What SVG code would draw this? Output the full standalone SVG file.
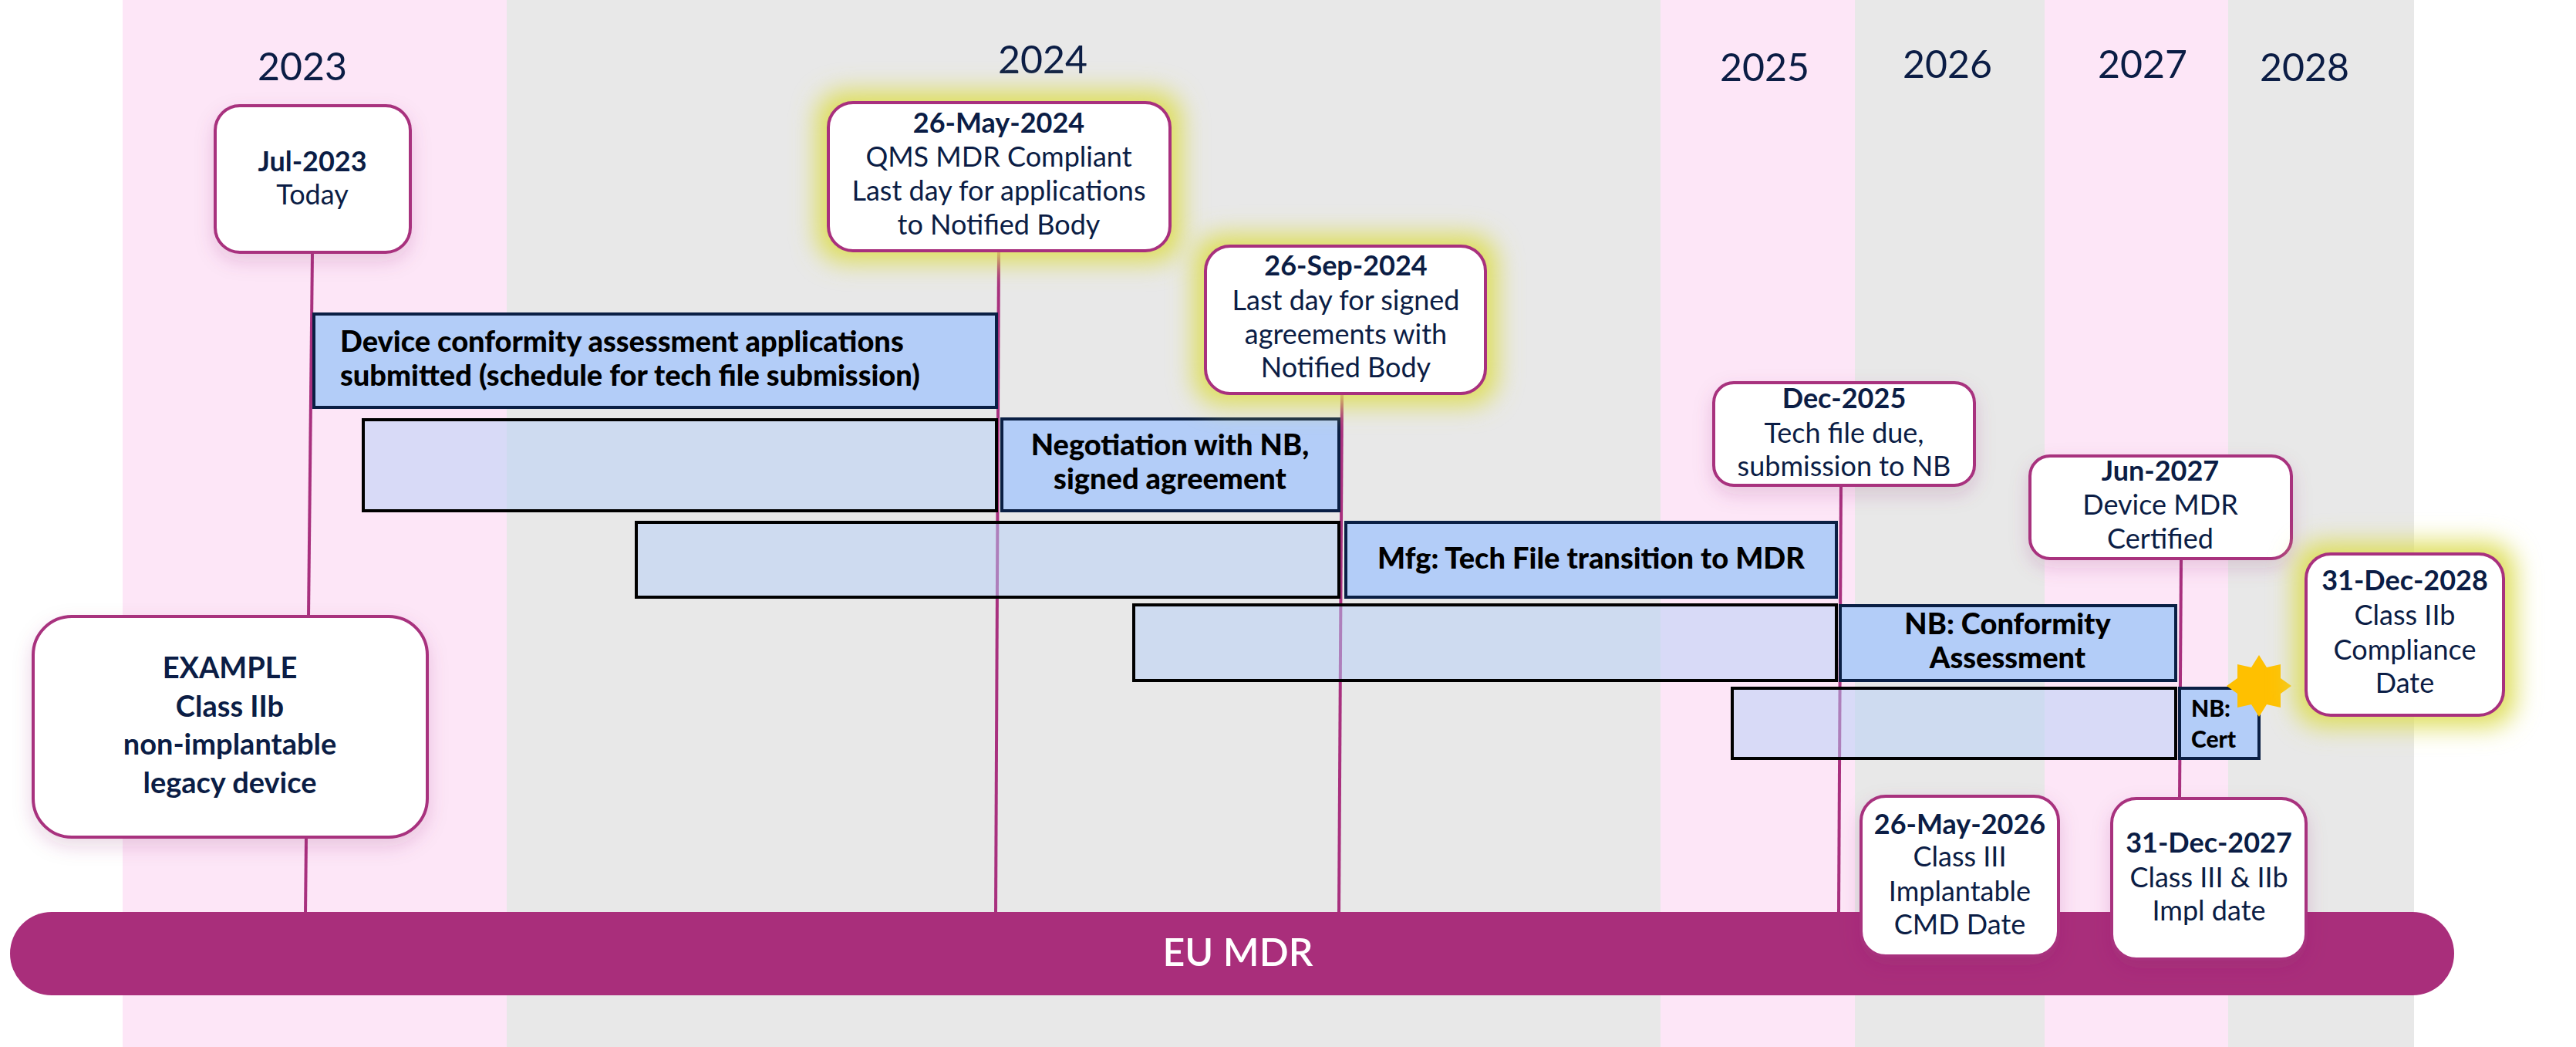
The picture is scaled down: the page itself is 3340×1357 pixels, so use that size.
<svg xmlns="http://www.w3.org/2000/svg" width="3340" height="1357" viewBox="0 0 3340 1357">
<defs>
<filter id="glow" x="-30%" y="-30%" width="160%" height="160%"><feGaussianBlur stdDeviation="16"/></filter>
<filter id="sh" x="-20%" y="-20%" width="140%" height="150%"><feDropShadow dx="0" dy="10" stdDeviation="12" flood-color="#8a2a6a" flood-opacity="0.18"/></filter>
<style>
.t{font-family:Lato,"Open Sans",sans-serif;fill:#0b1d45;text-anchor:middle;font-size:36px}
.b{font-weight:bold}
.bt{font-family:Lato,"Open Sans",sans-serif;fill:#000;font-weight:900;font-size:38px;text-anchor:middle}
.box{fill:#fff;stroke:#a8307e;stroke-width:4}
.bar{fill:#b3cdf8;stroke:#0a1f44;stroke-width:4}
.fade{fill:#b3cdf8;fill-opacity:0.5;stroke:#000;stroke-width:4}
.ln{stroke:#a8307e;stroke-width:4;fill:none}
.gl{fill:#dede5a}
.yr{font-family:Lato,"Open Sans",sans-serif;fill:#0b1d45;text-anchor:middle;font-size:50px}
</style>
</defs>
<rect width="3340" height="1357" fill="#fff"/>
<g id="bands">
<rect x="159" y="0" width="498" height="1357" fill="#fde6f7"/>
<rect x="657" y="0" width="1496" height="1357" fill="#e8e8e8"/>
<rect x="2153" y="0" width="252" height="1357" fill="#fde6f7"/>
<rect x="2405" y="0" width="246" height="1357" fill="#e8e8e8"/>
<rect x="2651" y="0" width="238" height="1357" fill="#fde6f7"/>
<rect x="2889" y="0" width="241" height="1357" fill="#e8e8e8"/>
</g>
<g id="years">
<text class="yr" x="392" y="104">2023</text>
<text class="yr" x="1352" y="95">2024</text>
<text class="yr" x="2288" y="105">2025</text>
<text class="yr" x="2525" y="101">2026</text>
<text class="yr" x="2778" y="101">2027</text>
<text class="yr" x="2988" y="105">2028</text>
</g>
<g id="connectors">
<line class="ln" x1="405" y1="327" x2="400" y2="799"/>
<line class="ln" x1="397" y1="1085" x2="396" y2="1184"/>
<line class="ln" x1="1295" y1="325" x2="1291" y2="1184"/>
<line class="ln" x1="1740" y1="510" x2="1736" y2="1184"/>
<line class="ln" x1="2387" y1="629" x2="2384" y2="1184"/>
<line class="ln" x1="2828" y1="726" x2="2826" y2="1035"/>
</g>
<g id="bars">
<rect class="fade" x="471" y="544" width="821" height="118"/>
<rect class="fade" x="825" y="677" width="911" height="97"/>
<rect class="fade" x="1470" y="784" width="911" height="98"/>
<rect class="fade" x="2246" y="892" width="575" height="91"/>
<g id="bar1"><rect class="bar" x="407" y="407" width="885" height="121"/>
<text class="bt" x="441" y="456" style="text-anchor:start">Device conformity assessment applications</text>
<text class="bt" x="441" y="500" style="text-anchor:start">submitted (schedule for tech file submission)</text></g>
<g id="bar2"><rect class="bar" x="1299" y="543" width="437" height="119"/>
<text class="bt" x="1517" y="590">Negotiation with NB,</text>
<text class="bt" x="1517" y="634">signed agreement</text></g>
<g id="bar3"><rect class="bar" x="1745" y="677" width="636" height="97"/>
<text class="bt" x="2063" y="737">Mfg: Tech File transition to MDR</text></g>
<g id="bar4"><rect class="bar" x="2386" y="785" width="435" height="97"/>
<text class="bt" x="2603" y="822">NB: Conformity</text>
<text class="bt" x="2603" y="866">Assessment</text></g>
<g id="bar5"><rect class="bar" x="2826" y="892" width="103" height="91"/>
<text class="bt" x="2841" y="929" style="text-anchor:start;font-size:30px">NB:</text>
<text class="bt" x="2841" y="969" style="text-anchor:start;font-size:30px">Cert</text></g>
</g>
<polygon id="star" fill="#ffc000" points="2929,849 2939,865 2957,861 2957,879 2971,889 2957,899 2957,917 2939,913 2929,929 2919,913 2901,917 2901,899 2887,889 2901,879 2901,861 2919,865"/>
<g id="eumdr"><rect x="13" y="1182" width="3169" height="108" rx="54" fill="#a92e7b"/>
<text x="1605" y="1252" style="font-family:Lato,'Open Sans',sans-serif;font-size:50px;fill:#fff;text-anchor:middle;font-weight:600">EU MDR</text></g>
<g id="jul2023"><rect class="box" filter="url(#sh)" x="279" y="137" width="253" height="190" rx="32"/>
<text class="t b" x="405" y="222">Jul-2023</text><text class="t" x="405" y="265">Today</text></g>
<g id="may2024"><rect class="gl" filter="url(#glow)" x="1059" y="118" width="473" height="222" rx="36"/>
<rect class="box" x="1074" y="133" width="443" height="192" rx="32"/>
<text class="t b" x="1295" y="172">26-May-2024</text><text class="t" x="1295" y="216">QMS MDR Compliant</text><text class="t" x="1295" y="260">Last day for applications</text><text class="t" x="1295" y="304">to Notified Body</text></g>
<g id="sep2024"><rect class="gl" filter="url(#glow)" x="1548" y="304" width="393" height="221" rx="36"/>
<rect class="box" x="1563" y="319" width="363" height="191" rx="32"/>
<text class="t b" x="1745" y="357">26-Sep-2024</text><text class="t" x="1745" y="402">Last day for signed</text><text class="t" x="1745" y="446">agreements with</text><text class="t" x="1745" y="489">Notified Body</text></g>
<g id="dec2025"><rect class="box" filter="url(#sh)" x="2222" y="496" width="338" height="133" rx="26"/>
<text class="t b" x="2391" y="529">Dec-2025</text><text class="t" x="2391" y="574">Tech file due,</text><text class="t" x="2391" y="617">submission to NB</text></g>
<g id="jun2027"><rect class="box" filter="url(#sh)" x="2632" y="591" width="339" height="133" rx="26"/>
<text class="t b" x="2801" y="623">Jun-2027</text><text class="t" x="2801" y="667">Device MDR</text><text class="t" x="2801" y="711">Certified</text></g>
<g id="dec2028"><rect class="gl" filter="url(#glow)" x="2975" y="703" width="286" height="239" rx="36"/>
<rect class="box" x="2990" y="718" width="256" height="209" rx="32"/>
<text class="t b" x="3118" y="765">31-Dec-2028</text><text class="t" x="3118" y="810">Class IIb</text><text class="t" x="3118" y="855">Compliance</text><text class="t" x="3118" y="898">Date</text></g>
<g id="example"><rect class="box" filter="url(#sh)" x="43" y="799" width="511" height="286" rx="50"/>
<text class="t b" x="298" y="879" style="font-size:38px">EXAMPLE</text><text class="t b" x="298" y="929" style="font-size:38px">Class IIb</text><text class="t b" x="298" y="978" style="font-size:38px">non-implantable</text><text class="t b" x="298" y="1028" style="font-size:38px">legacy device</text></g>
<g id="may2026"><rect class="box" filter="url(#sh)" x="2413" y="1032" width="256" height="207" rx="32"/>
<text class="t b" x="2541" y="1081">26-May-2026</text><text class="t" x="2541" y="1123">Class III</text><text class="t" x="2541" y="1168">Implantable</text><text class="t" x="2541" y="1211">CMD Date</text></g>
<g id="dec2027"><rect class="box" filter="url(#sh)" x="2738" y="1035" width="252" height="208" rx="32"/>
<text class="t b" x="2864" y="1105">31-Dec-2027</text><text class="t" x="2864" y="1150">Class III &amp; IIb</text><text class="t" x="2864" y="1193">Impl date</text></g>
</svg>
